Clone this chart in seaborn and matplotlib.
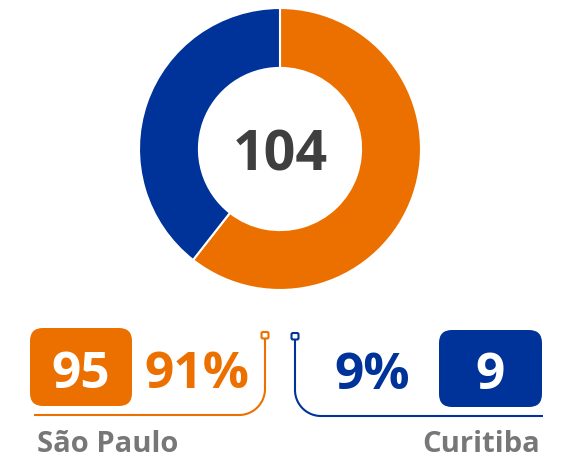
import numpy as np
import matplotlib
matplotlib.use("Agg")
import matplotlib.pyplot as plt
from matplotlib.patches import FancyBboxPatch
import seaborn as sns

# ---- data ----
cities = ["São Paulo", "Curitiba"]
ring_values = [63, 41]          # proportions as drawn in the ring
counts = [95, 9]
percents = ["91%", "9%"]
total_label = "104"

ORANGE = "#EC7000"
BLUE = "#003399"
GRAY = "#777777"
DARK = "#3f3f3f"

sns.set_theme(style="white")
plt.rcParams["font.family"] = ["Open Sans", "DejaVu Sans"]

W, H = 577, 460
fig = plt.figure(figsize=(W / 100, H / 100), dpi=100)

# ---- donut ----
cx, cy, R = 280, 150, 141
pax = fig.add_axes([(cx - R) / W, (H - cy - R) / H, 2 * R / W, 2 * R / H])
pax.pie(ring_values, colors=sns.color_palette([ORANGE, BLUE]), startangle=90,
        counterclock=False, radius=1,
        wedgeprops=dict(width=0.425, edgecolor="white", linewidth=1.5))
pax.set_xlim(-1, 1)
pax.set_ylim(-1, 1)
pax.set_aspect("equal")
pax.axis("off")
pax.text(0, 0, total_label, ha="center", va="center_baseline", fontsize=40,
         fontweight="bold", color=DARK)

# ---- bottom annotations (pixel coordinates) ----
ax = fig.add_axes([0, 0, 1, 1])
ax.set_xlim(0, W)
ax.set_ylim(H, 0)
ax.axis("off")

def box(x0, y0, x1, y1, color):
    ax.add_patch(FancyBboxPatch((x0, y0), x1 - x0, y1 - y0,
                                boxstyle="round,pad=0,rounding_size=13",
                                fc=color, ec="none"))

def curve_line(x_other, y_base, x_vert, y_top, color, side):
    r = 26
    if side == "right":
        th = np.linspace(np.pi / 2, 0, 30)
        c_x, c_y = x_vert - r, y_base - r
    else:
        th = np.linspace(np.pi / 2, np.pi, 30)
        c_x, c_y = x_vert + r, y_base - r
    arc_x = c_x + r * np.cos(th)
    arc_y = c_y + r * np.sin(th)
    xs = np.concatenate([[x_other], arc_x, [x_vert]])
    ys = np.concatenate([[y_base], arc_y, [y_top + 6]])
    ax.plot(xs, ys, color=color, lw=1.5, solid_capstyle="butt")
    ax.add_patch(FancyBboxPatch((x_vert - 3.5, y_top), 7, 6.5,
                                boxstyle="round,pad=0,rounding_size=1.5",
                                fc="white", ec=color, lw=1.5, zorder=5))

num_fs = 37
# Left: São Paulo
box(30, 329, 132, 407, ORANGE)
ax.text(81, 369, str(counts[0]), ha="center", va="center_baseline",
        fontsize=num_fs, fontweight="bold", color="white")
ax.text(197, 369, percents[0], ha="center", va="center_baseline",
        fontsize=num_fs, fontweight="bold", color=ORANGE)
curve_line(34, 416, 265, 333, ORANGE, "right")
ax.text(37, 452, cities[0], ha="left", va="baseline", fontsize=21,
        fontweight="bold", color=GRAY)

# Right: Curitiba
box(439, 331, 542, 408, BLUE)
ax.text(490, 370, str(counts[1]), ha="center", va="center_baseline",
        fontsize=num_fs, fontweight="bold", color="white")
ax.text(372, 370, percents[1], ha="center", va="center_baseline",
        fontsize=num_fs, fontweight="bold", color=BLUE)
curve_line(543, 417, 295, 334, BLUE, "left")
ax.text(540, 452, cities[1], ha="right", va="baseline", fontsize=21,
        fontweight="bold", color=GRAY)

fig.savefig("out.png", dpi=100, facecolor="white")
